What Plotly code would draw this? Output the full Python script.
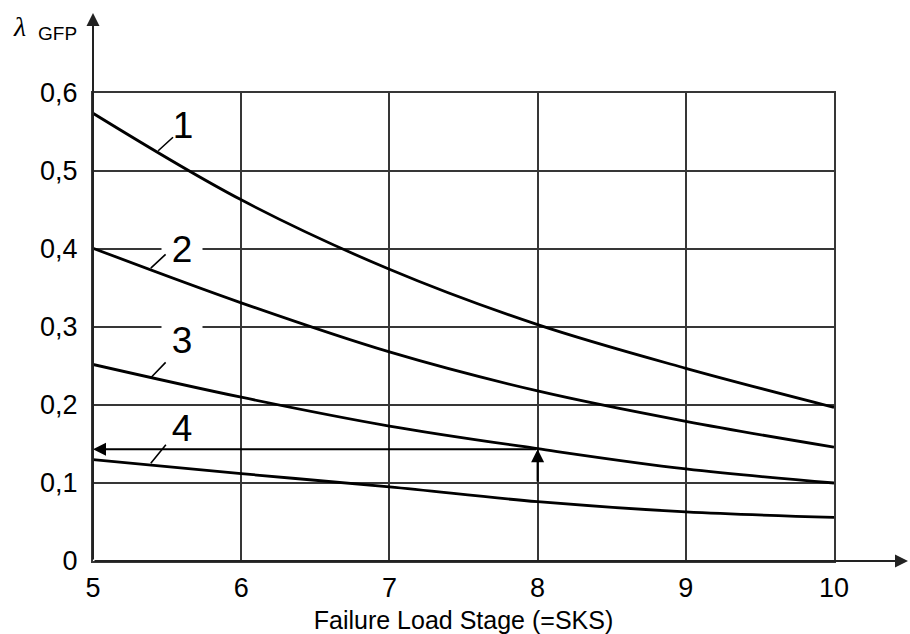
import plotly.graph_objects as go

# Failure load stage (SKS) and lambda_GFP for curves 1-4
sks = [5, 6, 7, 8, 9, 10]
curve_1 = [0.574, 0.463, 0.374, 0.303, 0.247, 0.197]
curve_2 = [0.401, 0.331, 0.268, 0.218, 0.179, 0.146]
curve_3 = [0.252, 0.210, 0.173, 0.144, 0.118, 0.100]
curve_4 = [0.130, 0.112, 0.095, 0.076, 0.063, 0.056]
curves = [curve_1, curve_2, curve_3, curve_4]
curve_names = ["1", "2", "3", "4"]

x_ticks = [5, 6, 7, 8, 9, 10]
x_tick_text = ["5", "6", "7", "8", "9", "10"]
y_ticks = [0, 0.1, 0.2, 0.3, 0.4, 0.5, 0.6]
y_tick_text = ["0", "0,1", "0,2", "0,3", "0,4", "0,5", "0,6"]

# Curve labels: text centre and leader line (tip on curve, end near text)
label_pos = [(5.61, 0.559), (5.60, 0.400), (5.60, 0.2835), (5.60, 0.170)]
leader_tip = [(5.44, 0.526), (5.39, 0.3755), (5.39, 0.235), (5.39, 0.1253)]
leader_end = [(5.55, 0.545), (5.50, 0.395), (5.50, 0.2566), (5.50, 0.151)]
label_mask = [False, True, True, False]

# Reading example: SKS = 8 up to curve 3, then across to the axis
read_sks = 8
read_start = 0.10
read_value = 0.1433

FONT = "Liberation Sans, Arial, sans-serif"
GRID = "#363636"

fig = go.Figure()
for ys, name in zip(curves, curve_names):
    fig.add_trace(go.Scatter(
        x=sks, y=ys, mode="lines", name=name,
        line=dict(color="black", width=2.8, shape="spline", smoothing=1.0),
        hoverinfo="skip", showlegend=False))

ann = []
# label texts (with white box where they sit on a grid line)
for (lx, ly), name, mask in zip(label_pos, curve_names, label_mask):
    ann.append(dict(
        x=lx, y=ly, xref="x", yref="y", text=name, showarrow=False,
        font=dict(family=FONT, size=37, color="black"),
        bgcolor="white" if mask else "rgba(0,0,0,0)",
        width=40, height=40, borderpad=0))
# leader lines
for (tx, ty), (ex, ey) in zip(leader_tip, leader_end):
    ann.append(dict(
        x=tx, y=ty, ax=ex, ay=ey, xref="x", yref="y", axref="x", ayref="y",
        text="", showarrow=True, arrowhead=0, arrowwidth=1.6,
        arrowcolor="black"))
# reading arrows
ann.append(dict(
    x=read_sks, y=read_value, ax=read_sks, ay=read_start,
    xref="x", yref="y", axref="x", ayref="y", text="", showarrow=True,
    arrowhead=2, arrowsize=1.3, arrowwidth=2, arrowcolor="black"))
ann.append(dict(
    x=x_ticks[0], y=read_value, ax=read_sks, ay=read_value,
    xref="x", yref="y", axref="x", ayref="y", text="", showarrow=True,
    arrowhead=2, arrowsize=1.3, arrowwidth=2, arrowcolor="black"))

# axis arrows running past the grid
plot_w, plot_h = 741, 468
ann.append(dict(
    x=1 + 74 / plot_w, y=0, xref="paper", yref="paper",
    ax=-(plot_w + 74), ay=0, text="", showarrow=True,
    arrowhead=2, arrowsize=1.3, arrowwidth=2, arrowcolor="#222"))
ann.append(dict(
    x=0, y=1 + 80 / plot_h, xref="paper", yref="paper",
    ax=0, ay=plot_h + 80, text="", showarrow=True,
    arrowhead=2, arrowsize=1.3, arrowwidth=2, arrowcolor="#222"))

# y-axis symbol
ann.append(dict(
    x=-(93 - 19) / plot_w, y=(561 - 26) / plot_h, xref="paper", yref="paper",
    xanchor="center", yanchor="middle",
    text="<i>λ</i>", showarrow=False,
    font=dict(family="Liberation Serif, DejaVu Serif, serif", size=28, color="black")))
ann.append(dict(
    x=-(93 - 57) / plot_w, y=(561 - 33) / plot_h, xref="paper", yref="paper",
    xanchor="center", yanchor="middle",
    text="GFP", showarrow=False,
    font=dict(family=FONT, size=19, color="black")))

fig.update_layout(
    width=910, height=634,
    margin=dict(l=93, r=76, t=93, b=73, autoexpand=False),
    paper_bgcolor="white", plot_bgcolor="white",
    annotations=ann,
    xaxis=dict(
        range=[5, 10], tickvals=x_ticks, ticktext=x_tick_text,
        showgrid=True, gridcolor=GRID, gridwidth=2,
        showline=True, linecolor=GRID, linewidth=2, mirror=True,
        zeroline=False, ticks="", ticklabelstandoff=2, automargin=False,
        tickfont=dict(family=FONT, size=27, color="black"),
        title=dict(text="Failure Load Stage (=SKS)", standoff=14,
                   font=dict(family=FONT, size=25, color="black")),
        fixedrange=True),
    yaxis=dict(
        range=[0, 0.6], tickvals=y_ticks, ticktext=y_tick_text,
        showgrid=True, gridcolor=GRID, gridwidth=2,
        showline=True, linecolor=GRID, linewidth=2, mirror=True,
        zeroline=False, ticks="", ticklabelstandoff=8, automargin=False,
        tickfont=dict(family=FONT, size=27, color="black"),
        fixedrange=True),
)

fig.write_html("out.html")
